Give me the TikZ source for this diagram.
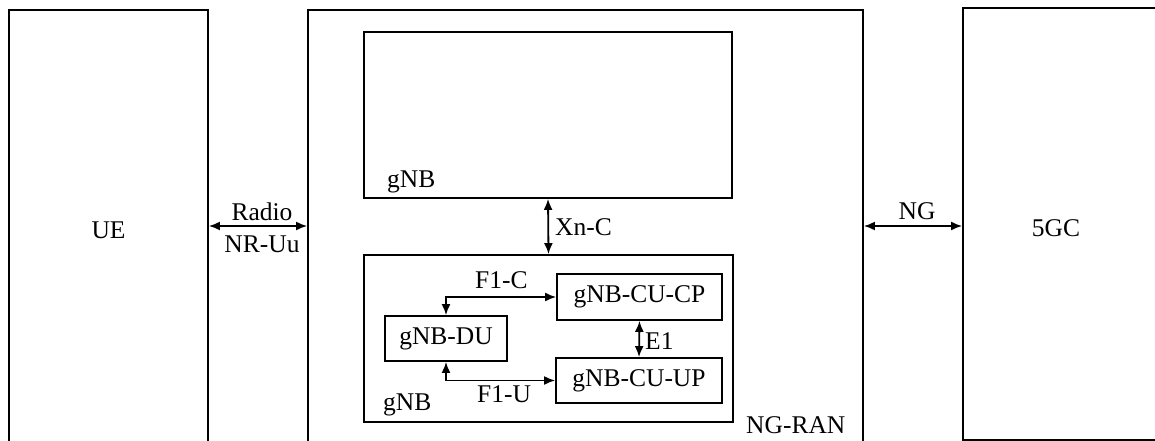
\documentclass[tikz,border=0pt]{standalone}
\usepackage{fontspec}
\setmainfont{Liberation Serif}
\usetikzlibrary{arrows.meta}

\begin{document}
\begin{tikzpicture}[x=1pt,y=-1pt,
            biarrow/.style={line width=1.8pt,{Latex[length=11pt,width=9pt]}-{Latex[length=11pt,width=9pt]},black},
            block/.style={draw,line width=1.8pt,rectangle,inner sep=0pt},
            label name/.style={inner sep=0pt},
            font=\fontsize{25.5}{30}\selectfont
         ]
      \useasboundingbox (0,0) rectangle (1155,441);
      % outer boxes
      \node[block,minimum width=199,minimum height=470] (ue) at (108.5,245) {};
      \node[block,minimum width=555,minimum height=470] (ngran) at (585.5,245) {};
      \node[block,minimum width=207,minimum height=432] (core) at (1066.5,224) {};
      % gNBs
      \node[block,minimum width=368,minimum height=166] (gnbtop) at (548,115) {};
      \node[block,minimum width=369,minimum height=167] (gnbbot) at (548.5,338.5) {};
      \node[block,minimum width=165,minimum height=46] (cucp) at (639.5,297) {gNB-CU-CP};
      \node[block,minimum width=122,minimum height=45] (du) at (446,338.5) {gNB-DU};
      \node[block,minimum width=166,minimum height=45] (cuup) at (639,380.5) {gNB-CU-UP};

      \node[label name,anchor=base] (uetext) at (108.5,238) {UE};
      \node[label name,anchor=base] (coretext) at (1056,236) {5GC};
      \node[label name,anchor=base west] (gnbtoptext) at (387,187) {gNB};
      \node[label name,anchor=base west] (gnbbottext) at (383,410) {gNB};
      \node[label name,anchor=base west] (ngrantext) at (746,433) {NG-RAN};

      \coordinate (uu) at (258,226);
      \coordinate (ng) at (913,226);
      \draw[biarrow] (uu -| ue.east) -- (uu -| ngran.west);
      \draw[biarrow] (ng -| ngran.east) -- (ng -| core.west);
      \draw[biarrow] (gnbtop.south) -- (gnbbot.north);
      \draw[biarrow] (du.north) |- (cucp.west);
      \draw[biarrow] (du.south) |- (cuup.west);
      \draw[biarrow] (cucp.south) -- (cuup.north);

      \node[label name,anchor=base] (radio) at (262,220) {Radio};
      \node[label name,anchor=base] (nruu) at (262,252.5) {NR-Uu};
      \node[label name,anchor=base] (ngtext) at (917,219) {NG};
      \node[label name,anchor=base west] (xnc) at (555,235) {Xn-C};
      \node[label name,anchor=base west] (f1c) at (475,288) {F1-C};
      \node[label name,anchor=base west] (f1u) at (477,402) {F1-U};
      \node[label name,anchor=base west] (e1) at (645,349) {E1};

   \end{tikzpicture}
\end{document}
